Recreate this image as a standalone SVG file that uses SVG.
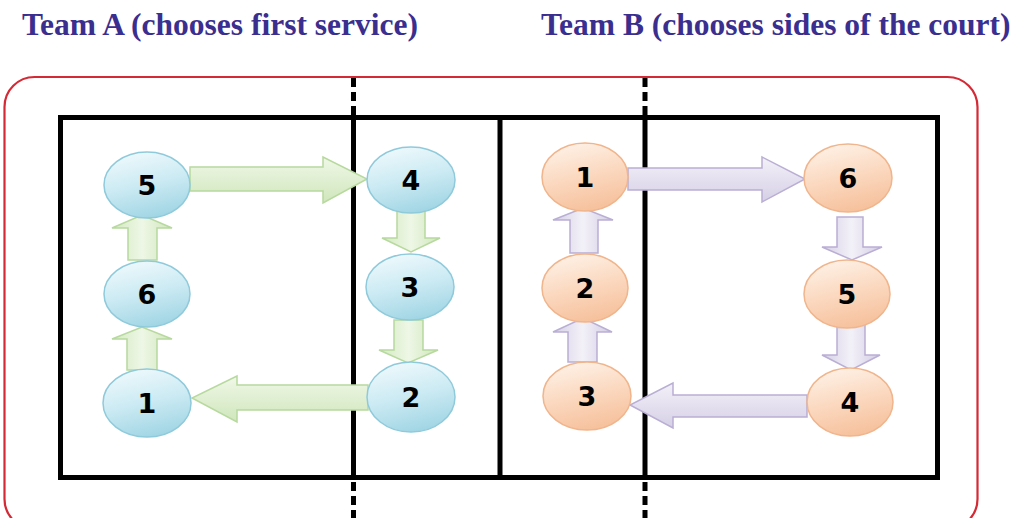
<svg xmlns="http://www.w3.org/2000/svg" width="1020" height="518" viewBox="0 0 1020 518">
  <defs>
    <linearGradient id="gBlue" x1="0.3" y1="0" x2="0.6" y2="1">
      <stop offset="0" stop-color="#eef9fc"/>
      <stop offset="0.5" stop-color="#cbeaf3"/>
      <stop offset="1" stop-color="#a0d5e4"/>
    </linearGradient>
    <linearGradient id="gOrange" x1="0.3" y1="0" x2="0.6" y2="1">
      <stop offset="0" stop-color="#fef1e6"/>
      <stop offset="0.5" stop-color="#fbd8bf"/>
      <stop offset="1" stop-color="#f6c09b"/>
    </linearGradient>
    <linearGradient id="gGreenH" x1="0" y1="0" x2="0" y2="1">
      <stop offset="0" stop-color="#f0f8e8"/>
      <stop offset="1" stop-color="#cfe6bb"/>
    </linearGradient>
    <linearGradient id="gGreenV" x1="0" y1="0" x2="1" y2="0">
      <stop offset="0" stop-color="#d3e9c0"/>
      <stop offset="0.5" stop-color="#eef7e6"/>
      <stop offset="1" stop-color="#cfe6bb"/>
    </linearGradient>
    <linearGradient id="gPurpleH" x1="0" y1="0" x2="0" y2="1">
      <stop offset="0" stop-color="#f3f1f8"/>
      <stop offset="1" stop-color="#d6cfe6"/>
    </linearGradient>
    <linearGradient id="gPurpleV" x1="0" y1="0" x2="1" y2="0">
      <stop offset="0" stop-color="#d6cfe6"/>
      <stop offset="0.5" stop-color="#f3f1f8"/>
      <stop offset="1" stop-color="#d3cbe4"/>
    </linearGradient>
  </defs>
  <style>
    .title { font-family: "Liberation Serif", "Times New Roman", serif; font-weight: bold; font-size: 31.5px; fill: #3a2f8f; }
    .frame { fill: none; stroke: #d42a35; stroke-width: 2.2; }
    .court { fill: none; stroke: #000; stroke-width: 5; }
    .net { stroke: #000; stroke-width: 5; }
    .dash { stroke: #000; stroke-width: 5; stroke-dasharray: 9 5; }
    .pa ellipse { fill: url(#gBlue); stroke: #8fcadb; stroke-width: 1.5; }
    .pb ellipse { fill: url(#gOrange); stroke: #f0b58c; stroke-width: 1.5; }
    .num { font-family: "DejaVu Sans", "Liberation Sans", sans-serif; font-weight: bold; font-size: 27px; fill: #000; text-anchor: middle; }
    .ga-h { fill: url(#gGreenH); stroke: #b7d99e; stroke-width: 1.5; }
    .ga-v { fill: url(#gGreenV); stroke: #b7d99e; stroke-width: 1.5; }
    .pu-h { fill: url(#gPurpleH); stroke: #b9aed4; stroke-width: 1.5; }
    .pu-v { fill: url(#gPurpleV); stroke: #b9aed4; stroke-width: 1.5; }
  </style>

  <!-- headings -->
  <text class="title" x="22" y="35">Team A (chooses first service)</text>
  <text class="title" x="541" y="35">Team B (chooses sides of the court)</text>

  <!-- outer frame -->
  <rect class="frame" x="4.5" y="77" width="973" height="452" rx="30" ry="30"/>

  <!-- court -->
  <g id="court">
    <rect class="court" x="60.5" y="117.5" width="877" height="360"/>
    <line class="net" x1="353.5" y1="117.5" x2="353.5" y2="477.5"/>
    <line class="net" x1="500" y1="117.5" x2="500" y2="477.5"/>
    <line class="net" x1="645" y1="117.5" x2="645" y2="477.5"/>
    <line class="dash" x1="353.5" y1="78" x2="353.5" y2="115"/>
    <line class="dash" x1="645" y1="78" x2="645" y2="115"/>
    <line class="dash" x1="353.5" y1="482" x2="353.5" y2="518"/>
    <line class="dash" x1="645" y1="482" x2="645" y2="518"/>
  </g>

  <!-- rotation arrows -->
  <g id="connectors">
    <!-- team A -->
    <polygon class="ga-h" points="190,167 323,167 323,157 367,179 323,203 323,191 190,191"/>
    <polygon class="ga-v" points="128,260 128,228 112,228 142,215 172,228 157,228 157,260"/>
    <polygon class="ga-v" points="127,370 127,339 112,339 142,327 172,339 157,339 157,370"/>
    <polygon class="ga-v" points="397,211 397,238 382,238 411,252 440,238 425,238 425,211"/>
    <polygon class="ga-v" points="394,320 394,350 379,350 408,363 438,350 423,350 423,320"/>
    <polygon class="ga-h" points="368,385 237,385 237,376 192,398 237,422 237,410 368,410"/>
    <!-- team B -->
    <polygon class="pu-h" points="628,168 762,168 762,157 805,179 762,202 762,190 628,190"/>
    <polygon class="pu-v" points="570,253 570,220 553,220 583,208 613,220 598,220 598,253"/>
    <polygon class="pu-v" points="568,362 568,332 553,332 583,318 612,332 597,332 597,362"/>
    <polygon class="pu-v" points="837,217 837,247 822,247 852,260 882,247 863,247 863,217"/>
    <polygon class="pu-v" points="837,325 837,355 822,355 851,370 880,355 865,355 865,325"/>
    <polygon class="pu-h" points="807,395 673,395 673,383 630,405 673,428 673,417 807,417"/>
  </g>

  <!-- team A players -->
  <g id="a5" class="pa"><ellipse cx="147" cy="185" rx="43" ry="33"/><text class="num" x="147" y="195">5</text></g>
  <g id="a6" class="pa"><ellipse cx="147" cy="294" rx="43" ry="33"/><text class="num" x="147" y="304">6</text></g>
  <g id="a1" class="pa"><ellipse cx="147" cy="403" rx="44" ry="34"/><text class="num" x="147" y="413">1</text></g>
  <g id="a4" class="pa"><ellipse cx="411" cy="180" rx="44" ry="33"/><text class="num" x="411" y="190">4</text></g>
  <g id="a3" class="pa"><ellipse cx="410" cy="287" rx="44" ry="33"/><text class="num" x="410" y="297">3</text></g>
  <g id="a2" class="pa"><ellipse cx="411" cy="397" rx="44" ry="35"/><text class="num" x="411" y="407">2</text></g>

  <!-- team B players -->
  <g id="b1" class="pb"><ellipse cx="585" cy="177" rx="43" ry="34"/><text class="num" x="585" y="187">1</text></g>
  <g id="b2" class="pb"><ellipse cx="585" cy="288" rx="43" ry="34"/><text class="num" x="585" y="298">2</text></g>
  <g id="b3" class="pb"><ellipse cx="587" cy="396" rx="44" ry="34"/><text class="num" x="587" y="406">3</text></g>
  <g id="b6" class="pb"><ellipse cx="848" cy="178" rx="44" ry="34"/><text class="num" x="848" y="188">6</text></g>
  <g id="b5" class="pb"><ellipse cx="847" cy="294" rx="43" ry="34"/><text class="num" x="847" y="304">5</text></g>
  <g id="b4" class="pb"><ellipse cx="850" cy="402" rx="43" ry="34"/><text class="num" x="850" y="412">4</text></g>
</svg>
